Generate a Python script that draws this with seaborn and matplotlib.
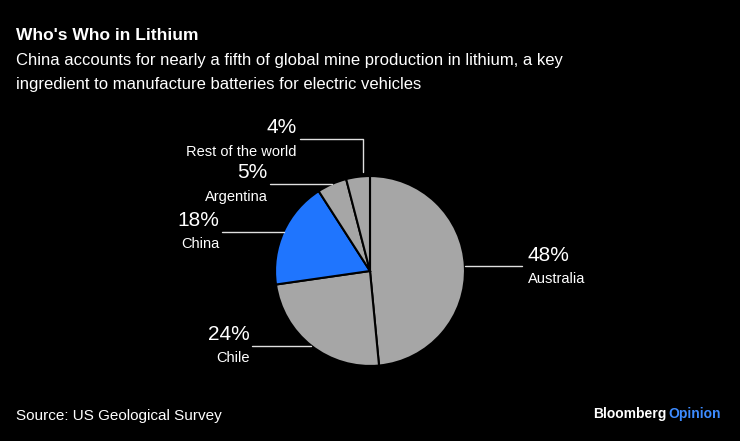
import numpy as np
import seaborn as sns
import matplotlib.pyplot as plt

countries = ["Australia", "Chile", "China", "Argentina", "Rest of the world"]
shares = [48, 24, 18, 5, 4]
slice_colors = ["#a6a6a6", "#a6a6a6", "#1f75fe", "#a6a6a6", "#a6a6a6"]

sns.set_theme(style="dark")
plt.rcParams['font.family'] = ['Liberation Sans', 'DejaVu Sans']

fig = plt.figure(figsize=(7.4, 4.41), dpi=100, facecolor="black")
# axes sized so that one data unit is the same in x and y
ax = fig.add_axes([170 / 740, 19 / 441, 400 / 740, 302 / 441])
ax.set_facecolor("black")

wedges, _ = ax.pie(shares, colors=slice_colors, startangle=90, counterclock=False,
                   wedgeprops=dict(edgecolor="black", linewidth=1.5))
ax.set_xlim(-2.105, 2.105)
ax.set_ylim(-1.59, 1.59)
ax.set_aspect("equal")
ax.axis("off")

# where each leader line ends (data units)
line_ends = [1.6, -1.24, -1.56, -1.05, -0.74]
line_col = "#e0e0e0"
for i, w in enumerate(wedges):
    mid = np.deg2rad((w.theta1 + w.theta2) / 2)
    x0, y0 = np.cos(mid), np.sin(mid)
    xe = line_ends[i]
    if countries[i] == "Rest of the world":
        ytop = 1.39
        x0 = x0 + 0.05
        ax.plot([x0, x0, xe], [y0 + 0.05, ytop, ytop], color=line_col, lw=1)
        y0 = ytop
    else:
        ax.plot([x0, xe], [y0, y0], color=line_col, lw=1)
    if xe > 0:
        tx, ha = xe + 0.06, "left"
    else:
        tx, ha = xe - 0.03, "right"
    ax.text(tx, y0 + 0.02, f"{shares[i]}%", color="white", fontsize=15,
            ha=ha, va="bottom")
    ax.text(tx, y0 - 0.06, countries[i], color="white", fontsize=10.5,
            ha=ha, va="top")

fig.text(16 / 740, 1 - 35 / 441, "Who's Who in Lithium", color="white", fontsize=12.5,
         fontweight="bold", va="center")
fig.text(16 / 740, 1 - 61 / 441,
         "China accounts for nearly a fifth of global mine production in lithium, a key",
         color="white", fontsize=12, va="center")
fig.text(16 / 740, 1 - 85 / 441, "ingredient to manufacture batteries for electric vehicles",
         color="white", fontsize=12, va="center")
fig.text(16 / 740, 1 - 416 / 441, "Source: US Geological Survey", color="white",
         fontsize=11, va="center")
fig.text(668 / 740, 1 - 414 / 441, "Opinion", color="#3d8bff", fontsize=10,
         fontweight="bold", ha="left", va="center")
fig.text(666 / 740, 1 - 414 / 441, "Bloomberg", color="white", fontsize=10,
         fontweight="bold", ha="right", va="center")

plt.savefig("out.png", dpi=100, facecolor="black")
plt.close()
